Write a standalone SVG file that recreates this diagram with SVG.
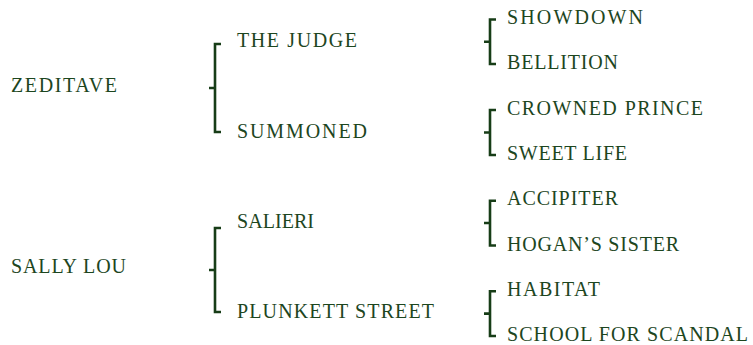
<svg xmlns="http://www.w3.org/2000/svg" width="753" height="345" viewBox="0 0 753 345">
<style>
text{font-family:"Liberation Serif","Times New Roman",serif;font-size:20px;fill:#1d461e}
.br{fill:none;stroke:#173d17;stroke-width:2.6;stroke-linecap:butt;stroke-linejoin:miter}
</style>
<rect width="753" height="345" fill="#ffffff"/>
<g id="connectors">
<path class="br" d="M221,44 H215 V132 H221 M215,88 H209"/>
<path class="br" d="M221,228 H215 V312 H221 M215,270 H209"/>
<path class="br" d="M496,19.5 H490 V64 H496 M490,41.8 H484"/>
<path class="br" d="M496,110 H490 V155 H496 M490,132.5 H484"/>
<path class="br" d="M496,200.7 H490 V245.5 H496 M490,223 H484"/>
<path class="br" d="M496,291.3 H490 V336 H496 M490,313.6 H484"/>
</g>
<g id="zeditave"><text x="11" y="92" textLength="106" lengthAdjust="spacing">ZEDITAVE</text></g>
<g id="sally-lou"><text x="11" y="273" textLength="115" lengthAdjust="spacing">SALLY LOU</text></g>
<g id="the-judge"><text x="237" y="47" textLength="120" lengthAdjust="spacing">THE JUDGE</text></g>
<g id="summoned"><text x="237" y="138" textLength="130" lengthAdjust="spacing">SUMMONED</text></g>
<g id="salieri"><text x="237" y="228" textLength="77" lengthAdjust="spacing">SALIERI</text></g>
<g id="plunkett-street"><text x="237" y="318" textLength="197" lengthAdjust="spacing">PLUNKETT STREET</text></g>
<g id="showdown"><text x="507" y="24" textLength="136" lengthAdjust="spacing">SHOWDOWN</text></g>
<g id="bellition"><text x="507" y="69.3" textLength="111" lengthAdjust="spacing">BELLITION</text></g>
<g id="crowned-prince"><text x="507" y="114.6" textLength="196" lengthAdjust="spacing">CROWNED PRINCE</text></g>
<g id="sweet-life"><text x="507" y="159.9" textLength="120" lengthAdjust="spacing">SWEET LIFE</text></g>
<g id="accipiter"><text x="507" y="205.2" textLength="111" lengthAdjust="spacing">ACCIPITER</text></g>
<g id="hogans-sister"><text x="507" y="250.5" textLength="172" lengthAdjust="spacing">HOGAN’S SISTER</text></g>
<g id="habitat"><text x="507" y="295.8" textLength="93" lengthAdjust="spacing">HABITAT</text></g>
<g id="school-for-scandal"><text x="507" y="341" textLength="241" lengthAdjust="spacing">SCHOOL FOR SCANDAL</text></g>
</svg>
